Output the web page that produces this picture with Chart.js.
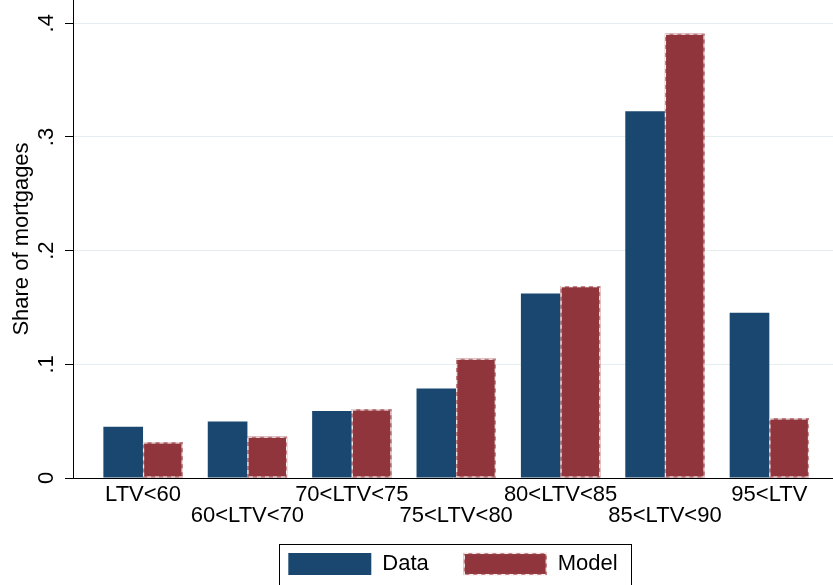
<!DOCTYPE html>
<html>
<head>
<meta charset="utf-8">
<script src="https://cdn.jsdelivr.net/npm/chart.js@4"></script>
<style>
  html, body { margin: 0; padding: 0; background: #fff; }
</style>
</head>
<body>
<canvas id="chart" width="833" height="585"></canvas>
<script>
const categories = ['LTV<60', '60<LTV<70', '70<LTV<75', '75<LTV<80', '80<LTV<85', '85<LTV<90', '95<LTV'];
const dataShare  = [0.0451, 0.0498, 0.0589, 0.0788, 0.1623, 0.3226, 0.1453];
const modelShare = [0.0314, 0.0363, 0.0604, 0.1049, 0.1688, 0.3908, 0.0525];
const yTicks = [0, 0.1, 0.2, 0.3, 0.4];
const yTickLabels = ['0', '.1', '.2', '.3', '.4'];

const family = '"Liberation Sans", Arial, sans-serif';

// dashed outline like the Stata model bars
function dashRect(ctx, x, y, w, h) {
  ctx.save();
  ctx.lineWidth = 1.2;
  ctx.strokeStyle = '#c4858a';
  ctx.strokeRect(x, y, w, h);
  ctx.setLineDash([4, 4]);
  ctx.strokeStyle = '#f2eeee';
  ctx.strokeRect(x, y, w, h);
  ctx.restore();
}

const extras = {
  id: 'extras',
  afterDatasetsDraw(chart) {
    const meta = chart.getDatasetMeta(1);
    meta.data.forEach(b => {
      const p = b.getProps(['x', 'y', 'base', 'width'], true);
      dashRect(chart.ctx, p.x - p.width / 2 + 0.5, p.y + 0.5, p.width - 1, p.base - p.y - 1);
    });
  },
  afterDraw(chart) {
    const ctx = chart.ctx;
    const hb = chart.legend.legendHitBoxes;
    if (!hb || hb.length < 2) return;
    dashRect(ctx, hb[1].left + 0.5, hb[1].top + 0.5, 82, 21);
    const left = hb[0].left - 9.5;
    const top = hb[0].top - 9.5;
    const right = hb[1].left + hb[1].width + 13;
    ctx.save();
    ctx.lineWidth = 1;
    ctx.strokeStyle = '#000';
    ctx.strokeRect(Math.round(left) + 0.5, Math.round(top) + 0.5, Math.round(right - left), 41);
    ctx.restore();
  }
};

new Chart(document.getElementById('chart'), {
  type: 'bar',
  data: {
    datasets: [
      {
        label: 'Data',
        data: dataShare.map((v, i) => ({ x: i, y: v })),
        backgroundColor: '#1a476f',
        borderWidth: 0,
        categoryPercentage: 0.76,
        barPercentage: 1.0
      },
      {
        label: 'Model',
        data: modelShare.map((v, i) => ({ x: i, y: v })),
        backgroundColor: '#90353b',
        borderWidth: 0,
        categoryPercentage: 0.76,
        barPercentage: 1.0
      }
    ]
  },
  options: {
    responsive: false,
    devicePixelRatio: 1,
    animation: false,
    layout: { padding: 0 },
    plugins: {
      tooltip: { enabled: false },
      legend: {
        position: 'bottom',
        fullSize: false,
        maxHeight: 67,
        labels: {
          boxWidth: 83,
          boxHeight: 22,
          padding: 35,
          color: '#000',
          font: { size: 22, family: family }
        }
      }
    },
    scales: {
      x: {
        type: 'linear',
        min: -0.671,
        max: 6.61,
        offset: false,
        grid: { display: false, drawTicks: false },
        border: { display: true, color: '#000', width: 1 },
        afterBuildTicks: s => { s.ticks = categories.map((c, i) => ({ value: i })); },
        afterFit: s => {
          s.height = 40; s.paddingLeft = 0; s.paddingRight = 0;
          s._computeLabelArea = () => undefined; // let the second label row run past the axis box
        },
        ticks: {
          autoSkip: false,
          maxRotation: 0,
          minRotation: 0,
          padding: 6,
          color: '#000',
          font: { size: 22, lineHeight: 0.96, family: family },
          callback: (v, i) => (i % 2 === 0 ? [categories[i], ''] : ['', categories[i]])
        }
      },
      y: {
        min: 0,
        max: 0.4205,
        afterBuildTicks: s => { s.ticks = yTicks.map(v => ({ value: v })); },
        afterFit: s => { s.width = 73; s.paddingTop = 0; s.paddingBottom = 0; },
        grid: { color: '#e4edf0', lineWidth: 1, tickLength: 8, tickColor: '#000', drawTicks: true },
        border: { color: '#000', width: 1 },
        ticks: {
          minRotation: 90,
          maxRotation: 90,
          crossAlign: 'center',
          padding: 9,
          color: '#000',
          font: { size: 22, family: family },
          callback: (v, i) => yTickLabels[i]
        },
        title: {
          display: true,
          text: 'Share of mortgages',
          color: '#000',
          font: { size: 22, family: family },
          padding: { top: 9, bottom: 0 }
        }
      }
    }
  },
  plugins: [extras]
});
</script>
</body>
</html>
